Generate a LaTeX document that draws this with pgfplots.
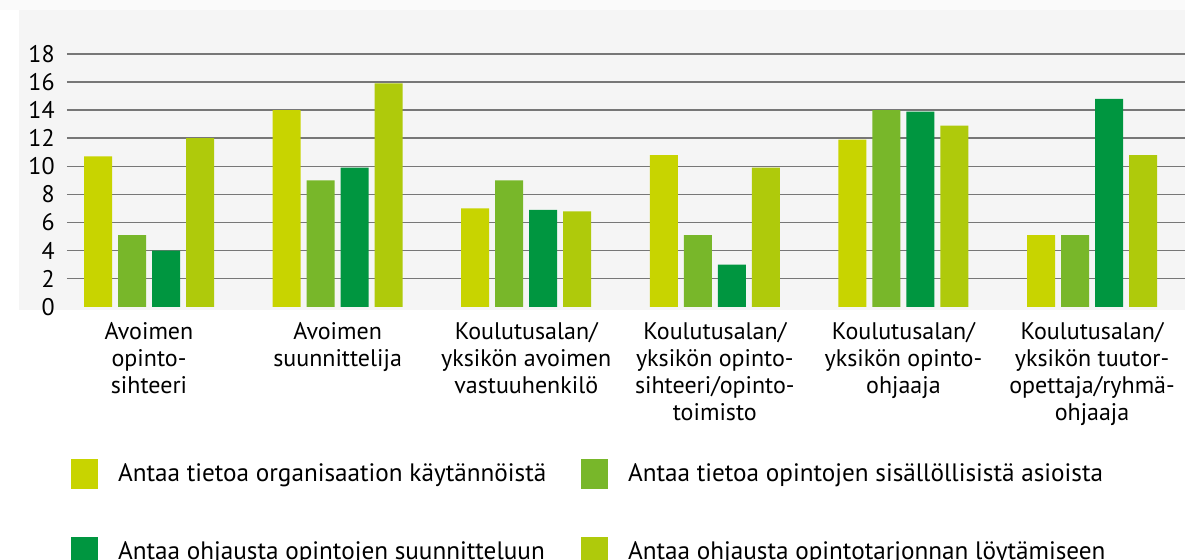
\documentclass[border=0pt]{standalone}
\usepackage{fontspec}
\setmainfont{PT Sans}
\usepackage{pgfplots}
\pgfplotsset{compat=1.18}

\definecolor{cA}{HTML}{C8D400}
\definecolor{cB}{HTML}{78B72A}
\definecolor{cC}{HTML}{009640}
\definecolor{cD}{HTML}{AFCA0B}
\definecolor{bggray}{HTML}{F5F5F5}
\definecolor{topgray}{HTML}{FAFAFA}
\definecolor{gridgray}{HTML}{777777}

\newcommand\fs{\fontsize{12}{13.5}\selectfont}
\newcommand\fl{\fontsize{12.6}{14}\selectfont}

\begin{document}
\begin{tikzpicture}
% panel background
\fill[topgray] (-33.5pt,148.4pt) rectangle (559pt,153.4pt);
\fill[bggray] (-24pt,-1.6pt) rectangle (559pt,148.4pt);
\begin{axis}[
  at={(0,0)}, anchor=south west,
  scale only axis, width=559pt, height=126.45pt,
  xmin=-0.4348, xmax=5.493, ymin=0, ymax=18,
  ybar=3pt, bar width=14pt,
  axis line style={draw=none},
  major tick length=0pt,
  ytick={2,4,...,18},
  extra y ticks={0}, extra y tick style={grid=none},
  ymajorgrids, grid style={draw=gridgray, line width=0.75pt},
  xtick={0,...,5},
  xticklabels={{Avoimen\\opinto-\\sihteeri},
               {Avoimen\\suunnittelija},
               {Koulutusalan/\\yksikön avoimen\\vastuuhenkilö},
               {Koulutusalan/\\yksikön opinto-\\sihteeri/opinto-\\toimisto},
               {Koulutusalan/\\yksikön opinto-\\ohjaaja},
               {Koulutusalan/\\yksikön tuutor-\\opettaja/ryhmä-\\ohjaaja}},
  xticklabel style={align=center, anchor=north, inner sep=0pt, yshift=-7.5pt, font=\fs},
  yticklabel style={anchor=east, inner sep=0pt, xshift=-6pt, font=\fs},
  /pgf/number format/assume math mode=true,
  clip=false,
  legend columns=2,
  legend cell align=left,
  legend style={draw=none, fill=none, inner sep=0pt, outer sep=0pt,
    at={(axis description cs:0.0036,-0.602)}, anchor=north west,
    row sep=24pt, column sep=0pt,
    nodes={inner sep=0pt, font=\fl}},
  legend image code/.code={\fill[#1, draw=none] (0pt,-7.5pt) rectangle (13.5pt,7.5pt); \path (23.5pt,0pt);},
]
\addplot[fill=cA, draw=none] coordinates {(0,10.7) (1,14.0) (2,7.0) (3,10.8) (4,11.9) (5,5.1)};
\addplot[fill=cB, draw=none] coordinates {(0,5.1) (1,9.0) (2,9.0) (3,5.1) (4,14.0) (5,5.1)};
\addplot[fill=cC, draw=none] coordinates {(0,4.0) (1,9.9) (2,6.9) (3,3.0) (4,13.9) (5,14.8)};
\addplot[fill=cD, draw=none] coordinates {(0,12.0) (1,15.9) (2,6.8) (3,9.9) (4,12.9) (5,10.8)};
\addlegendentry{\makebox[231.5pt][l]{Antaa tietoa organisaation käytännöistä}}
\addlegendentry{Antaa tietoa opintojen sisällöllisistä asioista}
\addlegendentry{\makebox[231.5pt][l]{Antaa ohjausta opintojen suunnitteluun}}
\addlegendentry{Antaa ohjausta opintotarjonnan löytämiseen}
\end{axis}
\pgfresetboundingbox
\path[use as bounding box] (-33.5pt,-126.1pt) rectangle (559pt,153.4pt);
\end{tikzpicture}
\end{document}
